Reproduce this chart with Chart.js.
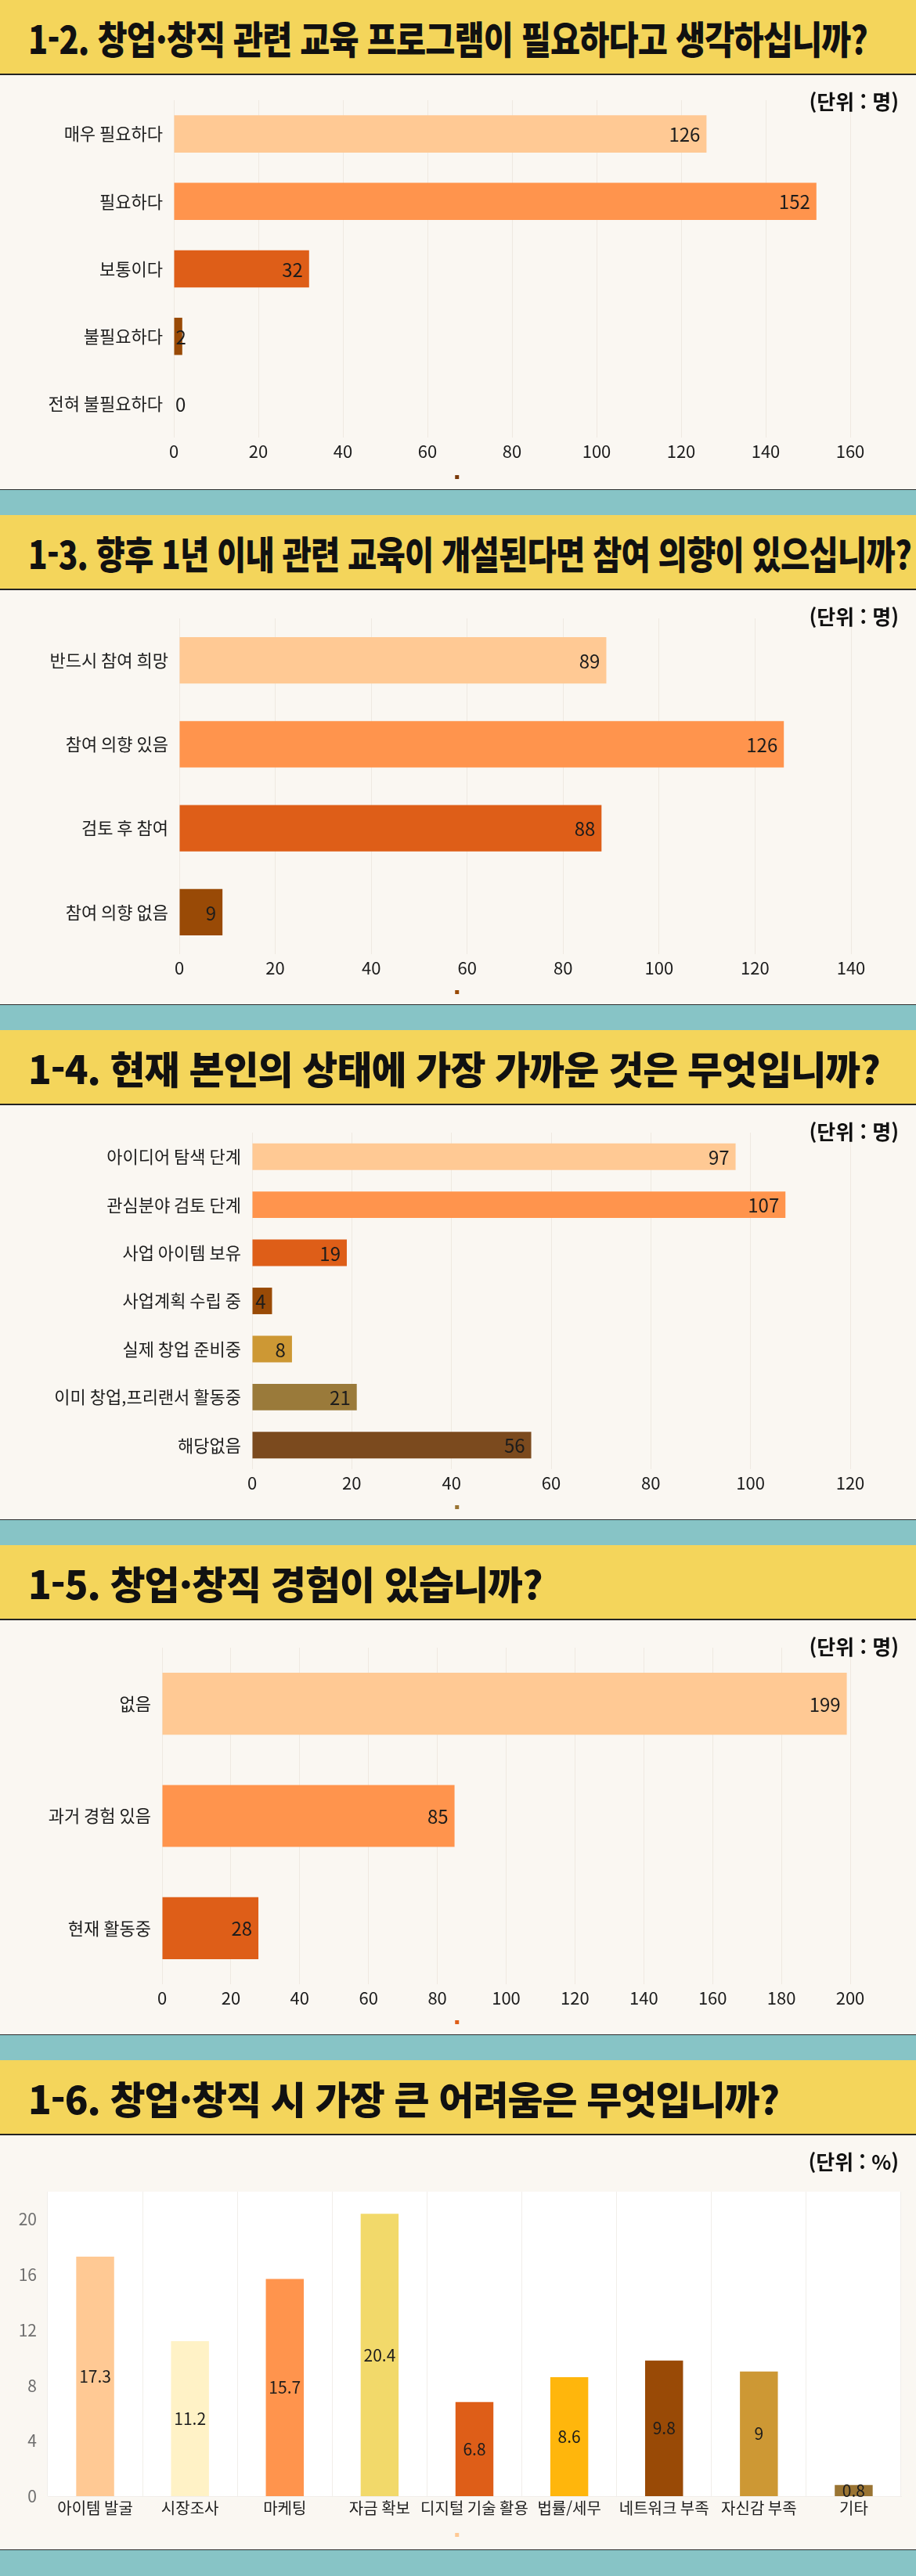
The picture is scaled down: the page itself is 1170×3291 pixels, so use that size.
<!DOCTYPE html>
<html lang="ko">
<head>
<meta charset="utf-8">
<title>창업·창직 교육 설문 결과</title>
<script src="https://cdn.jsdelivr.net/npm/chart.js@4.4.1/dist/chart.umd.min.js"></script>
<style>
  html, body { margin: 0; padding: 0; }
  body { width: 1170px; background: #faf7f2; font-family: "Noto Sans CJK KR", "Noto Sans", sans-serif; }
  .head { height: 94px; background: #f4d55b; border-bottom: 2px solid #232323; display: flex; align-items: center; padding-left: 36px; overflow: hidden; }
  .title { margin: 0; font-size: 49px; font-weight: 900; color: #111; white-space: nowrap; letter-spacing: -1px; transform-origin: left center; display: inline-block; }
  .body { height: 529px; position: relative; background: #faf7f2; }
  .unit { position: absolute; top: 16px; right: 22px; font-size: 26px; font-weight: 700; color: #111; line-height: 34px; z-index: 2; }
  .wrap { position: absolute; left: 0; top: 0; width: 1170px; height: 529px; }
  .teal { height: 32px; background: #87c4c6; border-top: 1px solid #2e2e2e; }
  .teal.last { height: 33px; }
</style>
</head>
<body>

<div class="head"><h2 class="title" data-w="1072">1-2. 창업·창직 관련 교육 프로그램이 필요하다고 생각하십니까?</h2></div>
<div class="body"><div class="unit">(단위 : 명)</div><div class="wrap"><canvas id="q12"></canvas></div></div>

<div class="teal"></div>
<div class="head"><h2 class="title" data-w="1128">1-3. 향후 1년 이내 관련 교육이 개설된다면 참여 의향이 있으십니까?</h2></div>
<div class="body"><div class="unit">(단위 : 명)</div><div class="wrap"><canvas id="q13"></canvas></div></div>

<div class="teal"></div>
<div class="head"><h2 class="title" data-w="1092">1-4. 현재 본인의 상태에 가장 가까운 것은 무엇입니까?</h2></div>
<div class="body"><div class="unit">(단위 : 명)</div><div class="wrap"><canvas id="q14"></canvas></div></div>

<div class="teal"></div>
<div class="head"><h2 class="title" data-w="662">1-5. 창업·창직 경험이 있습니까?</h2></div>
<div class="body"><div class="unit">(단위 : 명)</div><div class="wrap"><canvas id="q15"></canvas></div></div>

<div class="teal"></div>
<div class="head"><h2 class="title" data-w="968">1-6. 창업·창직 시 가장 큰 어려움은 무엇입니까?</h2></div>
<div class="body"><div class="unit">(단위 : %)</div><div class="wrap"><canvas id="q16"></canvas></div></div>

<div class="teal last"></div>

<script>
// 1-2
const q12Labels = ["매우 필요하다", "필요하다", "보통이다", "불필요하다", "전혀 불필요하다"];
const q12Values = [126, 152, 32, 2, 0];
// 1-3
const q13Labels = ["반드시 참여 희망", "참여 의향 있음", "검토 후 참여", "참여 의향 없음"];
const q13Values = [89, 126, 88, 9];
// 1-4
const q14Labels = ["아이디어 탐색 단계", "관심분야 검토 단계", "사업 아이템 보유", "사업계획 수립 중", "실제 창업 준비중", "이미 창업,프리랜서 활동중", "해당없음"];
const q14Values = [97, 107, 19, 4, 8, 21, 56];
// 1-5
const q15Labels = ["없음", "과거 경험 있음", "현재 활동중"];
const q15Values = [199, 85, 28];
// 1-6 (%)
const q16Labels = ["아이템 발굴", "시장조사", "마케팅", "자금 확보", "디지털 기술 활용", "법률/세무", "네트워크 부족", "자신감 부족", "기타"];
const q16Values = [17.3, 11.2, 15.7, 20.4, 6.8, 8.6, 9.8, 9, 0.8];

// axis maxima
const q12Max = 160, q13Max = 140, q14Max = 120, q15Max = 200, q16Max = 22;

const warmColors = ["#ffc994", "#ff944d", "#de5e18", "#994a06", "#cd9834", "#9a7a3a", "#7b4a1e"];
const q16Colors = ["#ffc994", "#fff2c6", "#ff944d", "#f2d96a", "#de5e18", "#ffb60c", "#994a06", "#cd9834", "#9a7433"];

const FONT = "Noto Sans CJK KR";
const textColor = "#1c1c1c";
const gridColor = "#efe9e1";

// squeeze each title into the width it has in the original
document.querySelectorAll(".title").forEach(function (el) {
    const w = el.getBoundingClientRect().width;
    const target = Number(el.dataset.w);
    el.style.transform = "scaleX(" + Math.min(target / w, 1) + ")";
});

const valueLabels = {
    id: "valueLabels",
    afterDatasetsDraw(chart, args, opts) {
        const ctx = chart.ctx;
        const values = chart.data.datasets[0].data;
        ctx.save();
        ctx.font = (opts.size || 22) + "px '" + FONT + "'";
        ctx.fillStyle = textColor;
        ctx.textBaseline = "middle";
        chart.getDatasetMeta(0).data.forEach(function (bar, i) {
            const text = String(values[i]);
            const w = ctx.measureText(text).width;
            if (opts.mode === "end") {
                ctx.textAlign = "right";
                ctx.fillText(text, Math.max(bar.x - 8, bar.base + w + 2), bar.y + 1);
            } else {
                ctx.textAlign = "center";
                ctx.fillText(text, bar.x, (bar.y + bar.base) / 2);
            }
        });
        ctx.restore();
    }
};

const plotBg = {
    id: "plotBg",
    beforeDraw(chart, args, opts) {
        if (!opts.color) return;
        const a = chart.chartArea;
        chart.ctx.save();
        chart.ctx.fillStyle = opts.color;
        chart.ctx.fillRect(a.left, a.top, a.right - a.left, a.bottom - a.top);
        chart.ctx.restore();
    }
};

function dotLegend(color) {
    return {
        position: "bottom",
        labels: {
            boxWidth: 5, boxHeight: 5, padding: 10, font: { size: 5 },
            generateLabels: function () {
                return [{ text: "", fillStyle: color, strokeStyle: color, lineWidth: 0 }];
            }
        }
    };
}

function hBar(id, labels, values, axisMax, box, dot) {
    new Chart(document.getElementById(id), {
        type: "bar",
        data: {
            labels: labels,
            datasets: [{
                label: "",
                data: values,
                backgroundColor: warmColors.slice(0, values.length),
                barPercentage: 0.69,
                categoryPercentage: 0.8
            }]
        },
        options: {
            indexAxis: "y",
            responsive: true,
            maintainAspectRatio: false,
            animation: false,
            layout: { padding: { top: box.top, left: 20, right: 20, bottom: 3 } },
            scales: {
                x: {
                    min: 0,
                    max: axisMax,
                    afterFit: function (s) { s.height = box.axisH; },
                    ticks: { stepSize: 20, color: textColor, font: { family: FONT, size: 22 }, padding: 4 },
                    grid: { color: gridColor, drawTicks: false },
                    border: { display: false }
                },
                y: {
                    afterFit: function (s) { s.width = box.left - 20; },
                    ticks: { color: textColor, font: { family: FONT, size: 22 }, padding: 6 },
                    grid: { display: false },
                    border: { display: false }
                },
                // empty right-hand spacer so the plot ends where the original does
                yRight: {
                    type: "category",
                    position: "right",
                    afterFit: function (s) { s.width = 1170 - 20 - box.right; },
                    ticks: { display: false },
                    grid: { display: false },
                    border: { display: false }
                }
            },
            plugins: {
                legend: dotLegend(dot),
                tooltip: { enabled: false },
                valueLabels: { mode: "end", size: 24 }
            }
        },
        plugins: [valueLabels]
    });
}

hBar("q12", q12Labels, q12Values, q12Max, { top: 32, left: 222, right: 1086, axisH: 38 }, "#7a3a0a");
hBar("q13", q13Labels, q13Values, q13Max, { top: 36, left: 229, right: 1087, axisH: 36 }, "#994a06");
hBar("q14", q14Labels, q14Values, q14Max, { top: 35, left: 322, right: 1086, axisH: 36 }, "#9a7433");
hBar("q15", q15Labels, q15Values, q15Max, { top: 35, left: 207, right: 1086, axisH: 36 }, "#de5e18");

new Chart(document.getElementById("q16"), {
    type: "bar",
    data: {
        labels: q16Labels,
        datasets: [{
            label: "",
            data: q16Values,
            backgroundColor: q16Colors,
            barPercentage: 0.5,
            categoryPercentage: 0.8
        }]
    },
    options: {
        responsive: true,
        maintainAspectRatio: false,
        animation: false,
        layout: { padding: { top: 72, left: 19, right: 19, bottom: 6 } },
        scales: {
            x: {
                afterFit: function (s) { s.height = 37; },
                ticks: { color: textColor, font: { family: FONT, size: 20 }, padding: 3, maxRotation: 0, autoSkip: false },
                grid: { color: "#f1eeea", offset: true, drawTicks: false },
                border: { color: "#f1eeea" }
            },
            y: {
                min: 0,
                max: q16Max,
                afterFit: function (s) { s.width = 42; },
                afterBuildTicks: function (s) { s.ticks = s.ticks.filter(function (t) { return t.value % 4 === 0; }); },
                ticks: { stepSize: 4, color: "#6e6e6e", font: { family: FONT, size: 21 }, padding: 6 },
                grid: { display: false },
                border: { display: false }
            }
        },
        plugins: {
            legend: dotLegend("#ffc994"),
            tooltip: { enabled: false },
            plotBg: { color: "#ffffff" },
            valueLabels: { mode: "center", size: 21 }
        }
    },
    plugins: [plotBg, valueLabels]
});
</script>
</body>
</html>
